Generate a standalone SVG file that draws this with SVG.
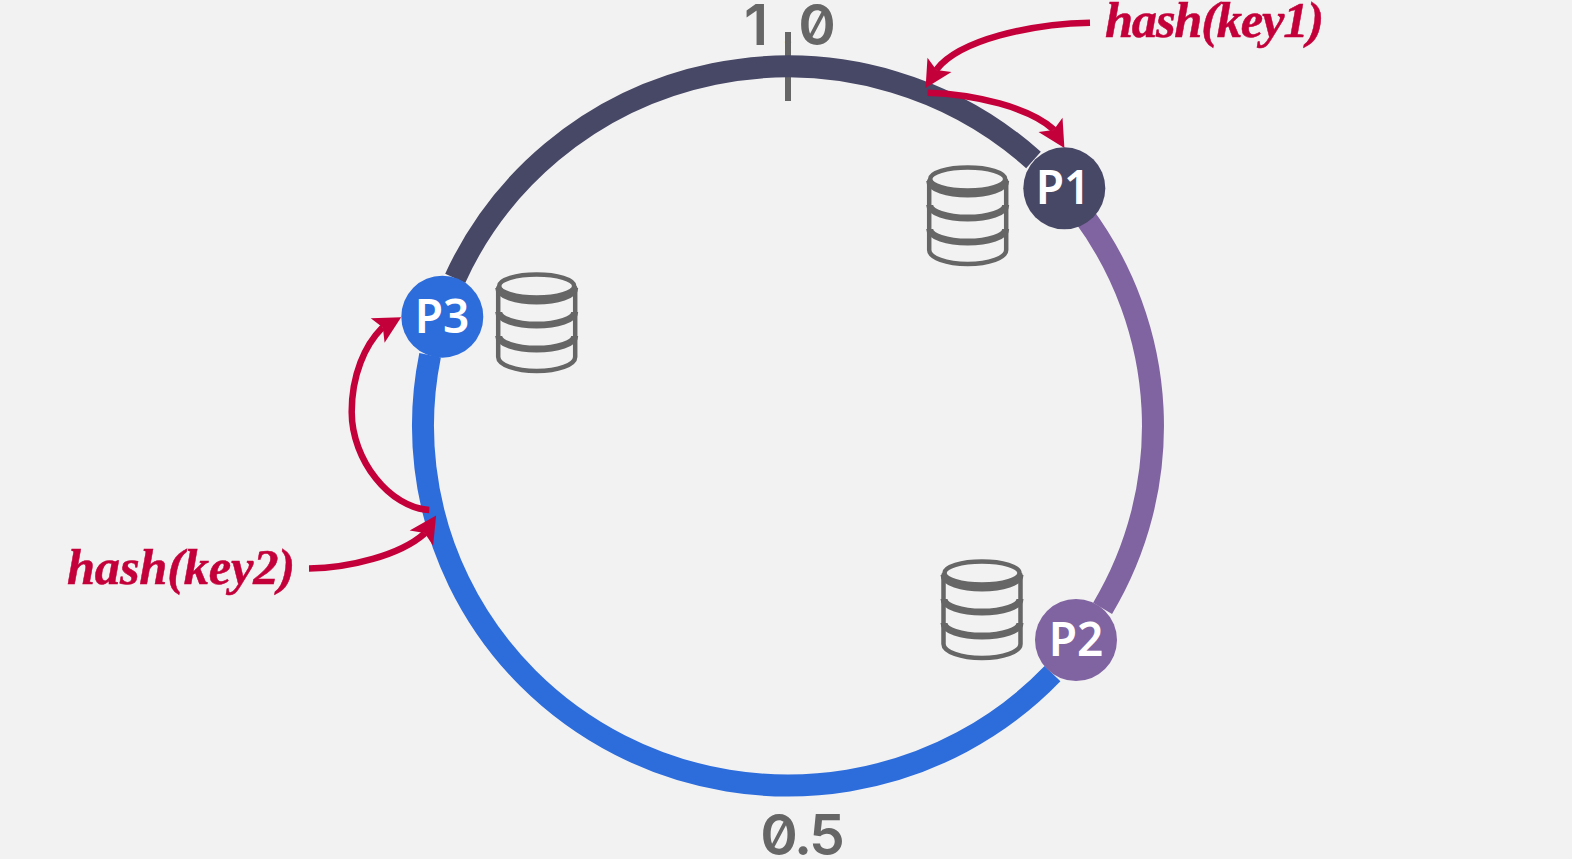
<svg xmlns="http://www.w3.org/2000/svg" width="1572" height="859" viewBox="0 0 1572 859">
<style>
.ring{fill:none;stroke-width:22}
.arrow{fill:none;stroke:#c4003a;stroke-width:6.500;marker-end:url(#head)}
.db{fill:none;stroke:#666;stroke-width:4.500;stroke-linecap:round}
.band{fill:none;stroke:#666;stroke-width:7}
.axis{font-family:"Inter",sans-serif;font-size:57px;font-weight:600;fill:#666;text-anchor:middle;font-feature-settings:"zero"}
.pl{font-family:"Noto Sans",sans-serif;font-size:46px;font-weight:600;fill:#fff;text-anchor:middle}
.hash{font-family:"Liberation Serif",serif;font-size:50.500px;font-weight:700;font-style:italic;fill:#c4003a;stroke:#c4003a;stroke-width:.5}
</style>
<defs>
<marker id="head" markerUnits="userSpaceOnUse" markerWidth="34" markerHeight="34" refX="6" refY="14" orient="auto" overflow="visible">
<path d="M0,0 L27,14 L0,28 L6,14 Z" fill="#c4003a"/>
</marker>
<g id="stack">
<ellipse cx="0" cy="13" rx="37.500" ry="11.500" class="db"/>
<path class="db" d="M-38.500,15V84A38.500,14 0 0 0 38.500,84V15"/>
<path class="band" d="M-38,15A38,13 0 0 0 38,15M-38,39A38,13 0 0 0 38,39M-38,63A38,13 0 0 0 38,63"/>
</g>
</defs>
<rect width="1572" height="859" fill="#f2f2f2"/>
<g id="axis-labels">
<text class="axis" x="756 788 817" y="45">1<tspan font-size="36">.</tspan>0</text>
<text class="axis" x="779 803 827" y="855">0.5</text>
</g>
<g id="connectors">
<path id="tick" d="M788,32V101" stroke="#666" stroke-width="6" fill="none"/>
<path id="arc-p3-p1" class="ring" stroke="#474766" d="M455.200,278.300A365,359.500 0 0 1 1033.500,160"/>
<path id="arc-p1-p2" class="ring" stroke="#8063a1" d="M1082.700,214A365,359.500 0 0 1 1102.600,608.300"/>
<path id="arc-p2-p3" class="ring" stroke="#2d6cdb" d="M1052.500,673.700A365,359.500 0 0 1 430.100,355.300"/>
<path class="arrow" d="M1090,22.700C1030,24 960,40 937,69l-.6,1"/>
<path class="arrow" d="M927.700,92.700C975,94 1030,108 1053,129l.6,1"/>
<path class="arrow" d="M309,568.500C350,568 400,555 424,534l.65,-1"/>
<path class="arrow" d="M429.300,510C390,508 351.700,460 351.700,412C351.700,375 365,345 382,328l.88,-.5"/>
</g>
<g id="p1"><circle cx="1064.300" cy="188.300" r="41" fill="#474766"/><text class="pl" x="1063" y="204">P1</text></g>
<g id="p2"><circle cx="1076" cy="640" r="41" fill="#8063a1"/><text class="pl" x="1076" y="656">P2</text></g>
<g id="p3"><circle cx="442.300" cy="316.700" r="41" fill="#2d6cdb"/><text class="pl" x="442" y="333">P3</text></g>
<g id="db1"><use href="#stack" x="967.700" y="166"/></g>
<g id="db2"><use href="#stack" x="982" y="560"/></g>
<g id="db3"><use href="#stack" x="536.700" y="273"/></g>
<g id="hash-labels">
<text class="hash" x="1105" y="37" textLength="219">hash(key1)</text>
<text class="hash" x="67" y="584" textLength="228">hash(key2)</text>
</g>
</svg>
